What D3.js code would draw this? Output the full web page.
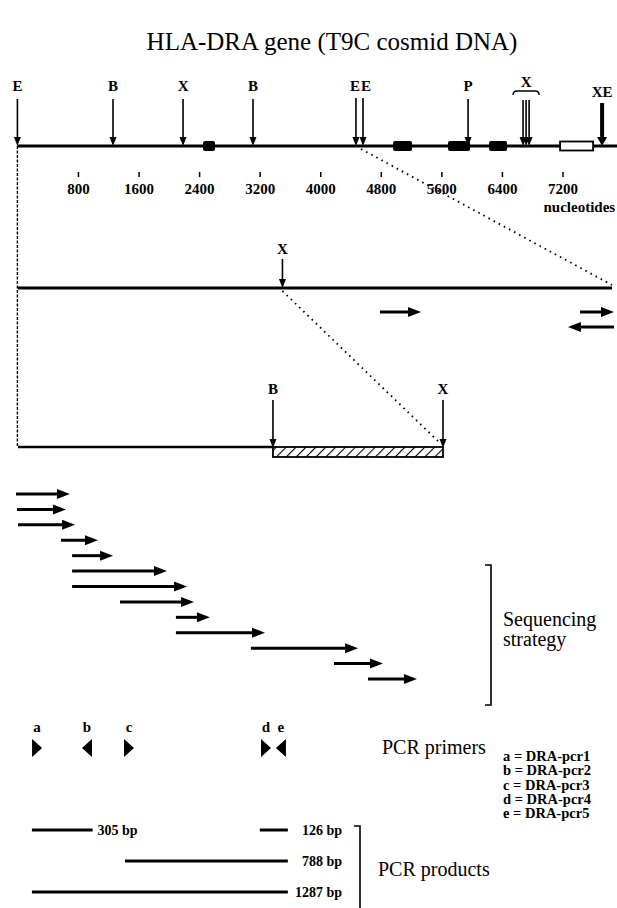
<!DOCTYPE html>
<html>
<head>
<meta charset="utf-8">
<script src="https://cdn.jsdelivr.net/npm/d3@7"></script>
<style>
  body { margin: 0; background: #fff; }
  text { font-family: "Liberation Serif", "Times New Roman", serif; fill: #000; }
</style>
</head>
<body>
<svg id="fig"></svg>
<script>
// cosmid restriction map (nucleotides)
var mapLength = 7920
var mapSites = [
  {label: "E", pos: 0}, {label: "B", pos: 1263}, {label: "X", pos: 2188},
  {label: "B", pos: 3112}, {label: "P", pos: 5953}
]
var ePair = [4472, 4565]
var xCluster = [6679, 6719, 6759]
var xeSite = 7723
var exons = [[2452, 2610], [4962, 5213], [5688, 5979], [6230, 6468]]
var openExon = [7168, 7604]
var mapTicks = [800, 1600, 2400, 3200, 4000, 4800, 5600, 6400, 7200]

// E-E subclone
var subLength = 4800
var subSites = [{label: "X", pos: 2137}]
var subReads = [
  {from: 2925, to: 3257, row: 0},
  {from: 4542, to: 4816, row: 0},
  {from: 4816, to: 4444, row: 1}
]

// E-X fragment, bp
var fineLength = 2137
var fineSites = [{label: "B", pos: 1282}, {label: "X", pos: 2137}]
var hatched = [1282, 2137]
var reads = [
  [-10, 261], [-5, 241], [0, 287], [216, 402], [272, 478], [272, 749], [272, 850],
  [513, 885], [794, 965], [794, 1242], [1171, 1710], [1589, 1835], [1760, 2006]
]
var primers = [
  {id: "a", pos: 96, dir: 1}, {id: "b", pos: 347, dir: -1}, {id: "c", pos: 558, dir: 1},
  {id: "d", pos: 1247, dir: 1}, {id: "e", pos: 1322, dir: -1}
]
var primerNames = ["a = DRA-pcr1", "b = DRA-pcr2", "c = DRA-pcr3", "d = DRA-pcr4", "e = DRA-pcr5"]
var products = [
  {label: "305 bp", from: 70, to: 375, row: 0},
  {label: "126 bp", from: 1216, to: 1357, row: 0},
  {label: "788 bp", from: 538, to: 1357, row: 1},
  {label: "1287 bp", from: 70, to: 1357, row: 2}
]

var width = 617, height = 908

var svg = d3.select("#fig")
    .attr("width", width)
    .attr("height", height)

var xMap = d3.scaleLinear().domain([0, mapLength]).range([17.4, 617])
var xSub = d3.scaleLinear().domain([0, subLength]).range([18, 612])
var xFine = d3.scaleLinear().domain([0, fineLength]).range([18, 443])
var yRead = d3.scalePoint().domain(d3.range(reads.length)).range([494, 679])
var yProd = d3.scalePoint().domain([0, 1, 2]).range([830, 892])
var yLegend = d3.scalePoint().domain(d3.range(primerNames.length)).range([757, 814])

var mapY = 146, subY = 288, fineY = 447

// hatch pattern
var defs = svg.append("defs")
defs.append("pattern")
    .attr("id", "hatch")
    .attr("patternUnits", "userSpaceOnUse")
    .attr("width", 7).attr("height", 7)
    .attr("patternTransform", "rotate(45)")
  .append("line")
    .attr("x1", 0).attr("y1", 0).attr("x2", 0).attr("y2", 7)
    .attr("stroke", "#000").attr("stroke-width", 2.2)

svg.append("text")
    .attr("x", 332).attr("y", 50)
    .attr("text-anchor", "middle")
    .attr("font-size", 25)
    .text("HLA-DRA gene (T9C cosmid DNA)")

// vertical arrow pointing down onto a line
function downArrow(g, x, y0, y1, w, hw) {
  g.append("line")
      .attr("x1", x).attr("x2", x)
      .attr("y1", y0).attr("y2", y1 - 6)
      .attr("stroke", "#000").attr("stroke-width", w)
  g.append("path")
      .attr("d", `M${x - hw},${y1 - 9}L${x + hw},${y1 - 9}L${x},${y1}Z`)
      .attr("fill", "#000")
}

// horizontal arrow
function sideArrow(g, x0, x1, y) {
  var dir = x1 > x0 ? 1 : -1
  var hx = x1 - dir * 13
  g.append("line")
      .attr("x1", x0).attr("x2", hx)
      .attr("y1", y).attr("y2", y)
      .attr("stroke", "#000").attr("stroke-width", 3)
  g.append("path")
      .attr("d", `M${hx},${y - 5}L${x1},${y}L${hx},${y + 5}Z`)
      .attr("fill", "#000")
}

function siteLabel(g, x, y, t, anchor) {
  g.append("text")
      .attr("x", x).attr("y", y)
      .attr("text-anchor", anchor || "middle")
      .attr("font-size", 15)
      .attr("font-weight", "bold")
      .text(t)
}

// ---- cosmid map ----
var gMap = svg.append("g")

gMap.append("line")
    .attr("x1", xMap(0)).attr("x2", xMap(mapLength))
    .attr("y1", mapY).attr("y2", mapY)
    .attr("stroke", "#000").attr("stroke-width", 3)

gMap.selectAll("rect.exon")
    .data(exons)
    .enter().append("rect")
    .attr("class", "exon")
    .attr("x", d => xMap(d[0]))
    .attr("width", d => xMap(d[1]) - xMap(d[0]))
    .attr("y", mapY - 5).attr("height", 10)
    .attr("rx", 2)
    .attr("fill", "#000")

gMap.append("rect")
    .attr("x", xMap(openExon[0]))
    .attr("width", xMap(openExon[1]) - xMap(openExon[0]))
    .attr("y", mapY - 4.5).attr("height", 9)
    .attr("fill", "#fff").attr("stroke", "#000").attr("stroke-width", 1.8)

mapSites.forEach(function(s) {
  downArrow(gMap, xMap(s.pos), 99, mapY, 1.6, 3.5)
  siteLabel(gMap, xMap(s.pos), 91, s.label)
})

// the two close E sites, labels side by side
ePair.forEach(function(p) {
  downArrow(gMap, xMap(p), 98, mapY, 1.6, 3.5)
})
var eMid = (xMap(ePair[0]) + xMap(ePair[1])) / 2
siteLabel(gMap, eMid + 0.5, 91, "E", "end")
siteLabel(gMap, eMid + 1.5, 91, "E", "start")

xCluster.forEach(function(p) {
  downArrow(gMap, xMap(p), 100, mapY, 1.6, 3.5)
})
var cx0 = xMap(xCluster[0]) - 10, cx1 = xMap(xCluster[2]) + 10
gMap.append("path")
    .attr("d", `M${cx0},95Q${cx0},91 ${cx0 + 4},91L${cx1 - 4},91Q${cx1},91 ${cx1},95`)
    .attr("fill", "none").attr("stroke", "#000").attr("stroke-width", 1.5)
siteLabel(gMap, xMap(xCluster[1]), 87, "X")

downArrow(gMap, xMap(xeSite), 103, mapY, 4, 5)
siteLabel(gMap, xMap(xeSite), 97, "XE")

var axis = gMap.append("g")
    .attr("transform", `translate(0,172)`)
    .call(d3.axisBottom(xMap).tickValues(mapTicks).tickSize(5).tickPadding(6).tickFormat(d3.format("d")))
axis.select(".domain").remove()
axis.selectAll(".tick line").attr("stroke", "#000").attr("stroke-width", 1.5)
axis.selectAll(".tick text")
    .attr("font-family", "Liberation Serif, serif")
    .attr("font-size", 15)
    .attr("font-weight", "bold")
    .attr("fill", "#000")

gMap.append("text")
    .attr("x", xMap(7200) - 19).attr("y", 212)
    .attr("font-size", 15).attr("font-weight", "bold")
    .text("nucleotides")

// ---- connectors ----
var gLinks = svg.append("g")
    .attr("fill", "none").attr("stroke", "#000")

gLinks.append("line")
    .attr("x1", xMap(ePair[1]) - 2).attr("y1", mapY + 3)
    .attr("x2", xSub(subLength)).attr("y2", subY - 3)
    .attr("stroke-width", 1.8).attr("stroke-dasharray", "1.6,4.2")

gLinks.append("line")
    .attr("x1", xSub(subSites[0].pos)).attr("y1", subY + 3)
    .attr("x2", xFine(fineLength) - 2).attr("y2", fineY - 3)
    .attr("stroke-width", 1.8).attr("stroke-dasharray", "1.6,4.2")

gLinks.append("line")
    .attr("x1", xMap(0)).attr("y1", mapY)
    .attr("x2", xMap(0)).attr("y2", fineY)
    .attr("stroke-width", 1.4).attr("stroke-dasharray", "3,1.5")

// ---- subclone ----
var gSub = svg.append("g")
gSub.append("line")
    .attr("x1", xSub(0)).attr("x2", xSub(subLength))
    .attr("y1", subY).attr("y2", subY)
    .attr("stroke", "#000").attr("stroke-width", 3)

subSites.forEach(function(s) {
  downArrow(gSub, xSub(s.pos), 259, subY, 1.6, 3.5)
  siteLabel(gSub, xSub(s.pos), 254, s.label)
})

subReads.forEach(function(r) {
  sideArrow(gSub, xSub(r.from), xSub(r.to), 312 + r.row * 15)
})

// ---- fine map ----
var gFine = svg.append("g")
gFine.append("line")
    .attr("x1", xFine(0)).attr("x2", xFine(hatched[0]))
    .attr("y1", fineY).attr("y2", fineY)
    .attr("stroke", "#000").attr("stroke-width", 2.5)

gFine.append("rect")
    .attr("x", xFine(hatched[0]))
    .attr("width", xFine(hatched[1]) - xFine(hatched[0]))
    .attr("y", fineY).attr("height", 10)
    .attr("fill", "url(#hatch)")
    .attr("stroke", "#000").attr("stroke-width", 1.8)

fineSites.forEach(function(s) {
  downArrow(gFine, xFine(s.pos), 400, fineY + 1, 1.6, 3.5)
  siteLabel(gFine, xFine(s.pos), 394, s.label)
})

// ---- sequencing reads ----
var gReads = svg.append("g")
reads.forEach(function(r, i) {
  sideArrow(gReads, xFine(r[0]), xFine(r[1]), yRead(i))
})

function bracket(g, x, y0, y1, closedBottom) {
  var p = `M${x - 6},${y0}L${x},${y0}L${x},${y1}`
  if (closedBottom) p += `L${x - 6},${y1}`
  g.append("path")
      .attr("d", p)
      .attr("fill", "none").attr("stroke", "#000").attr("stroke-width", 1.6)
}

bracket(gReads, 491, 565, 705, true)
gReads.append("text")
    .attr("x", 503).attr("y", 626)
    .attr("font-size", 20)
    .text("Sequencing")
gReads.append("text")
    .attr("x", 503).attr("y", 646)
    .attr("font-size", 20)
    .text("strategy")

// ---- primers ----
var gPrim = svg.append("g")
gPrim.selectAll("path")
    .data(primers)
    .enter().append("path")
    .attr("d", function(d) {
      var x = xFine(d.pos), h = 5
      return `M${x - d.dir * h},739L${x + d.dir * h},748L${x - d.dir * h},757Z`
    })
    .attr("fill", "#000")

gPrim.selectAll("text.lab")
    .data(primers)
    .enter().append("text")
    .attr("class", "lab")
    .attr("x", d => xFine(d.pos))
    .attr("y", 732)
    .attr("text-anchor", "middle")
    .attr("font-size", 15).attr("font-weight", "bold")
    .text(d => d.id)

gPrim.append("text")
    .attr("x", 382).attr("y", 754)
    .attr("font-size", 20)
    .text("PCR primers")

gPrim.selectAll("text.name")
    .data(primerNames)
    .enter().append("text")
    .attr("class", "name")
    .attr("x", 503)
    .attr("y", (d, i) => yLegend(i) + 4)
    .attr("font-size", 14.5).attr("font-weight", "bold")
    .text(d => d)

// ---- PCR products ----
var gProd = svg.append("g")
gProd.selectAll("line")
    .data(products)
    .enter().append("line")
    .attr("x1", d => xFine(d.from)).attr("x2", d => xFine(d.to))
    .attr("y1", d => yProd(d.row)).attr("y2", d => yProd(d.row))
    .attr("stroke", "#000").attr("stroke-width", 3)

gProd.selectAll("text")
    .data(products)
    .enter().append("text")
    .attr("x", (d, i) => i === 0 ? xFine(d.to) + 5 : 342)
    .attr("y", d => yProd(d.row) + 5)
    .attr("text-anchor", (d, i) => i === 0 ? "start" : "end")
    .attr("font-size", 14).attr("font-weight", "bold")
    .text(d => d.label)

bracket(gProd, 360, 826, 908, false)
gProd.append("text")
    .attr("x", 378).attr("y", 876)
    .attr("font-size", 20)
    .text("PCR products")
</script>
</body>
</html>
